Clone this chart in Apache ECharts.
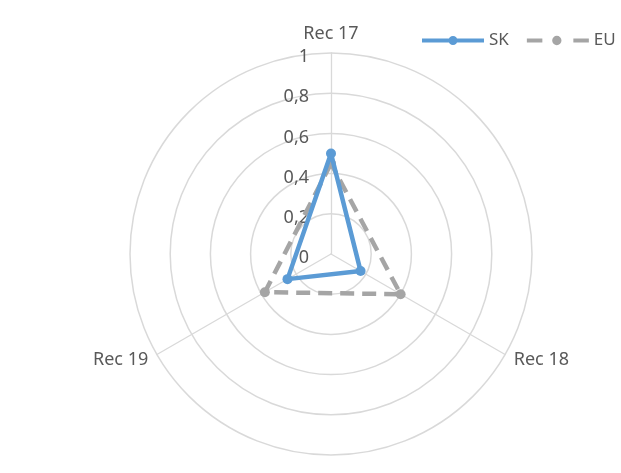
<!DOCTYPE html>
<html>
<head>
<meta charset="utf-8">
<script src="https://cdn.jsdelivr.net/npm/echarts@6/dist/echarts.min.js"></script>
<style>
  html, body { margin: 0; padding: 0; background: #ffffff; }
  #chart { width: 621px; height: 473px; }
</style>
</head>
<body>
<div id="chart"></div>
<script>
// Recommendation scores per axis
const categories = ['Rec 17', 'Rec 18', 'Rec 19'];
const skValues = [0.50, 0.17, 0.25];
const euValues = [0.45, 0.40, 0.38];
const tickLabels = ['0', '0,2', '0,4', '0,6', '0,8', '1'];

// ECharts lays radar indicators out counterclockwise from the top;
// this order puts Rec 18 at the lower right and Rec 19 at the lower left.
const drawOrder = [0, 2, 1];
const pick = arr => drawOrder.map(i => arr[i]);

const FONT = '"Noto Sans", "Open Sans", sans-serif';
const TEXT = '#595959';
const GRID = '#D9D9D9';
const SK_COLOR = '#5B9BD5';
const EU_COLOR = '#A5A5A5';
const CENTER = [331, 254];
const RADIUS = 201;
// value labels sit a little below their rings
const LABEL_CENTER = [CENTER[0], CENTER[1] + 4];

// Legend glyphs: a line with a round marker in the middle (solid / dashed)
const circlePath = (cx, cy, r) =>
  'M' + (cx - r) + ',' + cy + ' A' + r + ',' + r + ' 0 1 1 ' + (cx + r) + ',' + cy +
  ' A' + r + ',' + r + ' 0 1 1 ' + (cx - r) + ',' + cy + ' Z';
const solidIcon = 'path://M0,3 H62 V7 H0 Z ' + circlePath(31, 5, 4.5);
const dashedIcon = 'path://M0,3 H15 V7 H0 Z M45,3 H60 V7 H45 Z ' + circlePath(29, 5, 4.5);

const chart = echarts.init(document.getElementById('chart'), null, { renderer: 'canvas' });

chart.setOption({
  backgroundColor: '#ffffff',
  animation: false,
  color: [EU_COLOR, SK_COLOR],
  legend: {
    data: [
      { name: 'SK', icon: solidIcon, itemStyle: { color: SK_COLOR } },
      { name: 'EU', icon: dashedIcon, itemStyle: { color: EU_COLOR } }
    ],
    left: 422,
    top: 32,
    padding: 0,
    itemWidth: 62,
    itemHeight: 10,
    itemGap: 18,
    textStyle: { color: TEXT, fontSize: 17, fontFamily: FONT }
  },
  radar: {
    center: CENTER,
    radius: RADIUS,
    startAngle: 90,
    shape: 'circle',
    splitNumber: 5,
    nameGap: 10,
    indicator: pick(categories).map(name => ({ name: name, min: 0, max: 1 })),
    axisName: { color: TEXT, fontSize: 18, fontFamily: FONT },
    axisLine: { lineStyle: { color: GRID, width: 1.3 } },
    splitLine: { lineStyle: { color: GRID, width: 1.5 } },
    splitArea: { show: false },
    axisTick: { show: false },
    axisLabel: { show: false }
  },
  // Polar overlay carrying the value scale along the top axis
  polar: { center: LABEL_CENTER, radius: RADIUS },
  angleAxis: { show: false, startAngle: 90, min: 0, max: 360 },
  radiusAxis: {
    min: 0,
    max: 1,
    interval: 0.2,
    axisLine: { show: false },
    axisTick: { show: false },
    splitLine: { show: false },
    axisLabel: {
      color: TEXT,
      fontSize: 18,
      fontFamily: FONT,
      margin: 22,
      formatter: (v) => tickLabels[Math.round(v / 0.2)]
    }
  },
  series: [
    {
      type: 'radar',
      name: 'EU',
      z: 2,
      symbol: 'circle',
      symbolSize: 10,
      data: [{
        name: 'EU',
        value: pick(euValues),
        lineStyle: { color: EU_COLOR, width: 4.5, type: [14, 8] },
        itemStyle: { color: EU_COLOR }
      }]
    },
    {
      type: 'radar',
      name: 'SK',
      z: 3,
      symbol: 'circle',
      symbolSize: 10,
      data: [{
        name: 'SK',
        value: pick(skValues),
        lineStyle: { color: SK_COLOR, width: 4.5 },
        itemStyle: { color: SK_COLOR }
      }]
    }
  ]
});
</script>
</body>
</html>
